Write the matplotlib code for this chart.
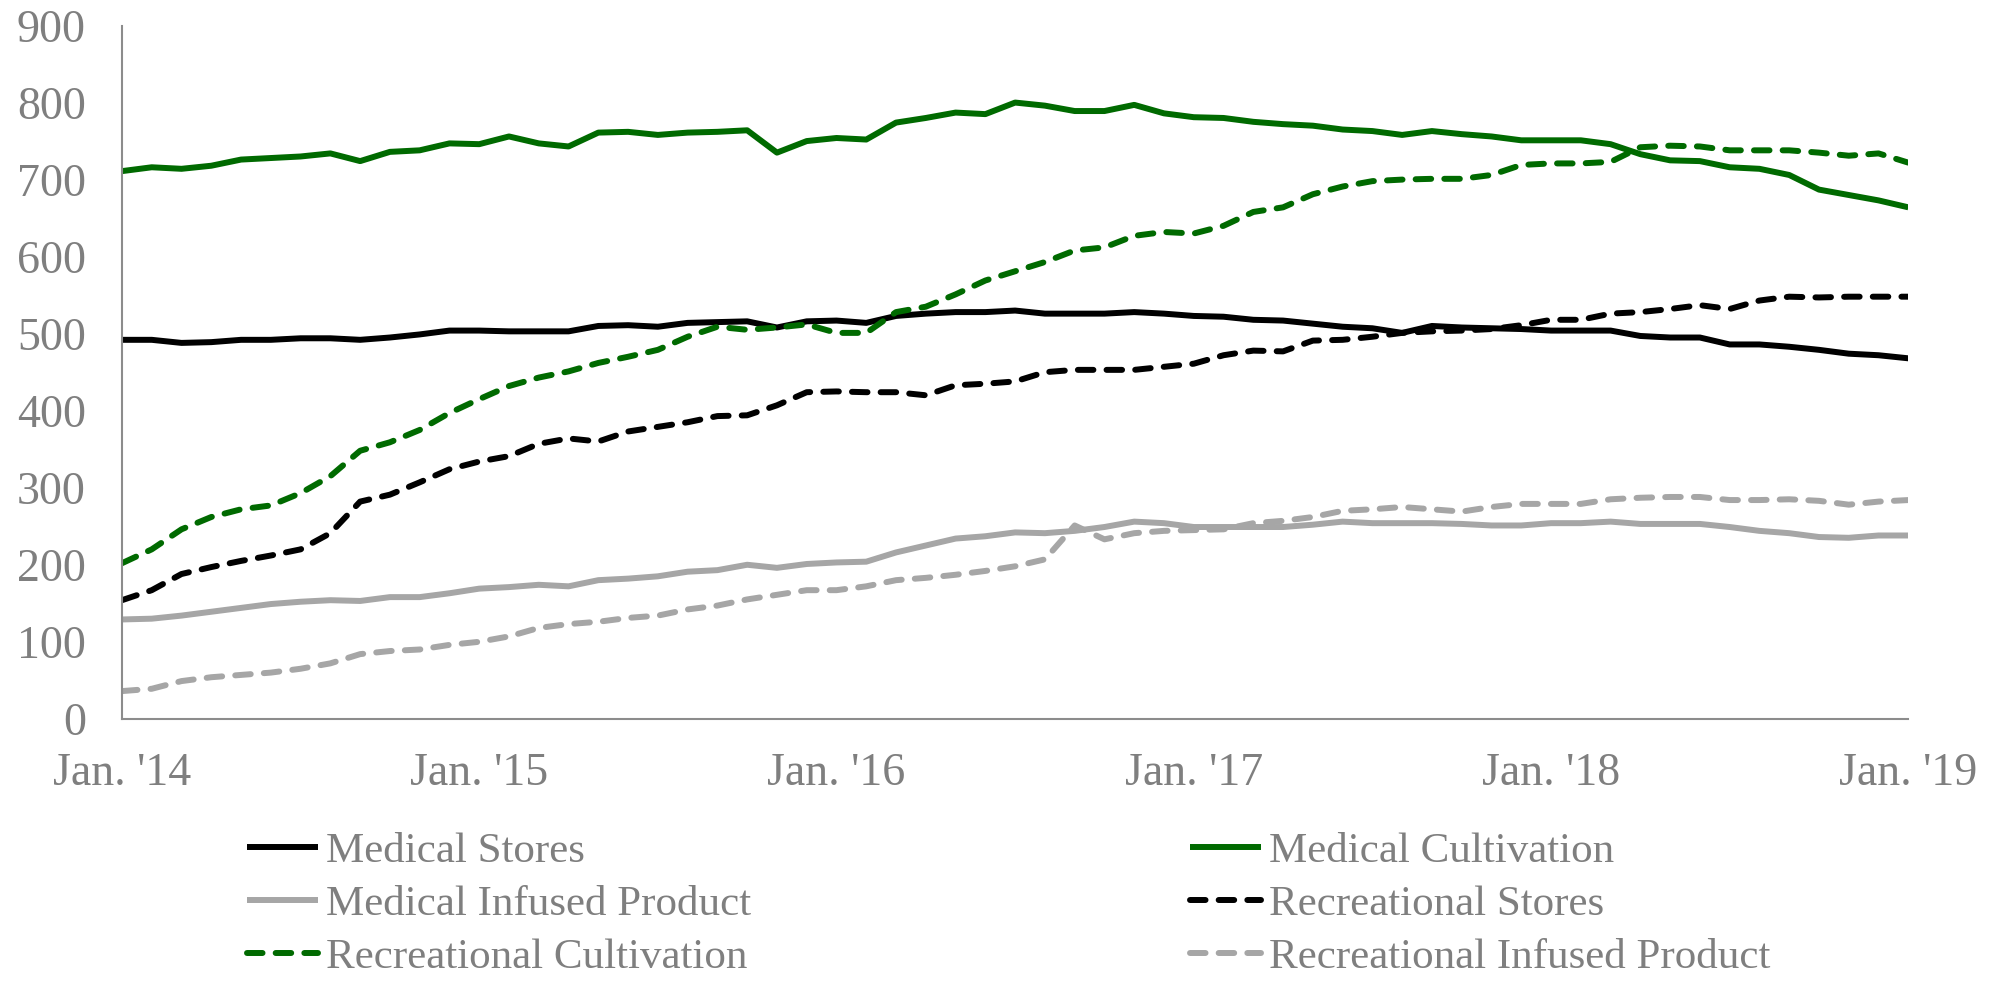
import matplotlib
matplotlib.use('Agg')
import matplotlib.pyplot as plt
import numpy as np

plt.rcParams['font.family'] = ['Liberation Serif', 'DejaVu Serif']

# monthly counts, Jan 2014 .. Jan 2019 (61 months)
medical_stores = [
    492, 492, 488, 489, 492, 492, 494, 494, 492, 495,
    499, 504, 504, 503, 503, 503, 510, 511, 509, 514,
    515, 516, 508, 516, 517, 514, 523, 526, 528, 528,
    530, 526, 526, 526, 528, 526, 523, 522, 518, 517,
    513, 509, 507, 501, 510, 508, 507, 506, 504, 504,
    504, 497, 495, 495, 486, 486, 483, 479, 474, 472,
    468,
]
medical_cultivation = [
    711, 716, 714, 718, 726, 728, 730, 734, 724, 736,
    738, 747, 746, 756, 747, 743, 761, 762, 758, 761,
    762, 764, 735, 750, 754, 752, 774, 780, 787, 785,
    800, 796, 789, 789, 797, 786, 781, 780, 775, 772,
    770, 765, 763, 758, 763, 759, 756, 751, 751, 751,
    746, 733, 725, 724, 716, 714, 706, 687, 680, 673,
    664,
]
medical_infused = [
    129, 130, 134, 139, 144, 149, 152, 154, 153, 158,
    158, 163, 169, 171, 174, 172, 180, 182, 185, 191,
    193, 200, 196, 201, 203, 204, 216, 225, 234, 237,
    242, 241, 244, 249, 256, 254, 249, 249, 249, 249,
    252, 256, 254, 254, 254, 253, 251, 251, 254, 254,
    256, 253, 253, 253, 249, 244, 241, 236, 235, 238,
    238,
]
recreational_stores = [
    154, 167, 188, 197, 205, 212, 220, 241, 282, 291,
    307, 324, 334, 341, 357, 364, 360, 373, 379, 385,
    393, 394, 407, 424, 425, 424, 424, 420, 433, 435,
    438, 450, 453, 453, 453, 457, 461, 472, 478, 477,
    491, 492, 496, 501, 503, 504, 506, 511, 518, 518,
    526, 528, 532, 537, 532, 543, 548, 547, 548, 548,
    548,
]
recreational_cultivation = [
    202, 220, 246, 262, 272, 277, 293, 315, 348, 359,
    375, 397, 415, 432, 443, 451, 462, 470, 479, 496,
    509, 505, 508, 512, 501, 501, 528, 535, 551, 569,
    581, 593, 608, 612, 627, 632, 630, 640, 658, 664,
    681, 691, 698, 700, 701, 701, 706, 719, 721, 721,
    723, 742, 744, 743, 738, 738, 738, 735, 731, 734,
    722,
]
recreational_infused = [
    36, 39, 49, 54, 57, 60, 65, 72, 84, 88,
    90, 96, 100, 107, 118, 123, 126, 131, 134, 142,
    147, 155, 161, 167, 167, 172, 180, 183, 187, 192,
    198, 207, 251, 233, 241, 244, 245, 246, 254, 257,
    262, 270, 272, 275, 272, 269, 275, 279, 279, 279,
    285, 287, 288, 288, 284, 284, 285, 283, 278, 282,
    284,
]

tick_labels = ["Jan. '14", "Jan. '15", "Jan. '16", "Jan. '17", "Jan. '18", "Jan. '19"]

GREEN = '#006a00'
GRAY = '#a6a6a6'
TEXT = '#7f7f7f'
AXIS = '#8c8c8c'
FS = 33
LEG_FS = 31
LW = 4.3
DASH = (2.6, 2.2)

months = np.arange(len(medical_stores))

fig = plt.figure(figsize=(20.06, 9.82), dpi=100)
ax = fig.add_axes([0.0608, 0.268, 0.8905, 0.706])

solid = dict(lw=LW, solid_joinstyle='round', solid_capstyle='butt')
dashed = dict(lw=LW, dashes=DASH, dash_capstyle='round', dash_joinstyle='round')

l_ms, = ax.plot(months, medical_stores, color='black', label='Medical Stores', **solid)
l_mc, = ax.plot(months, medical_cultivation, color=GREEN, label='Medical Cultivation', **solid)
l_mi, = ax.plot(months, medical_infused, color=GRAY, label='Medical Infused Product', **solid)
l_rs, = ax.plot(months, recreational_stores, color='black', label='Recreational Stores', **dashed)
l_rc, = ax.plot(months, recreational_cultivation, color=GREEN, label='Recreational Cultivation', **dashed)
l_ri, = ax.plot(months, recreational_infused, color=GRAY, label='Recreational Infused Product', **dashed)

ax.set_xlim(0, 60)
ax.set_ylim(0, 900)
ax.set_yticks(np.arange(0, 901, 100))
ax.set_xticks(np.arange(0, 61, 12))
ax.set_xticklabels(tick_labels)

for side in ['top', 'right']:
    ax.spines[side].set_visible(False)
for side in ['left', 'bottom']:
    ax.spines[side].set_color(AXIS)
    ax.spines[side].set_linewidth(1.5)

ax.tick_params(axis='both', length=0, labelsize=FS, labelcolor=TEXT)
ax.tick_params(axis='y', pad=26)
ax.tick_params(axis='x', pad=24)

leg_kw = dict(loc='upper left', frameon=False, fontsize=LEG_FS, labelcolor=TEXT,
              handlelength=1.65, handletextpad=0.2, labelspacing=0.32,
              borderpad=0, borderaxespad=0)
fig.legend(handles=[l_ms, l_mi, l_rc], bbox_to_anchor=(0.123, 0.153), **leg_kw)
fig.legend(handles=[l_mc, l_rs, l_ri], bbox_to_anchor=(0.593, 0.153), **leg_kw)

fig.savefig('out.png', dpi=100)
